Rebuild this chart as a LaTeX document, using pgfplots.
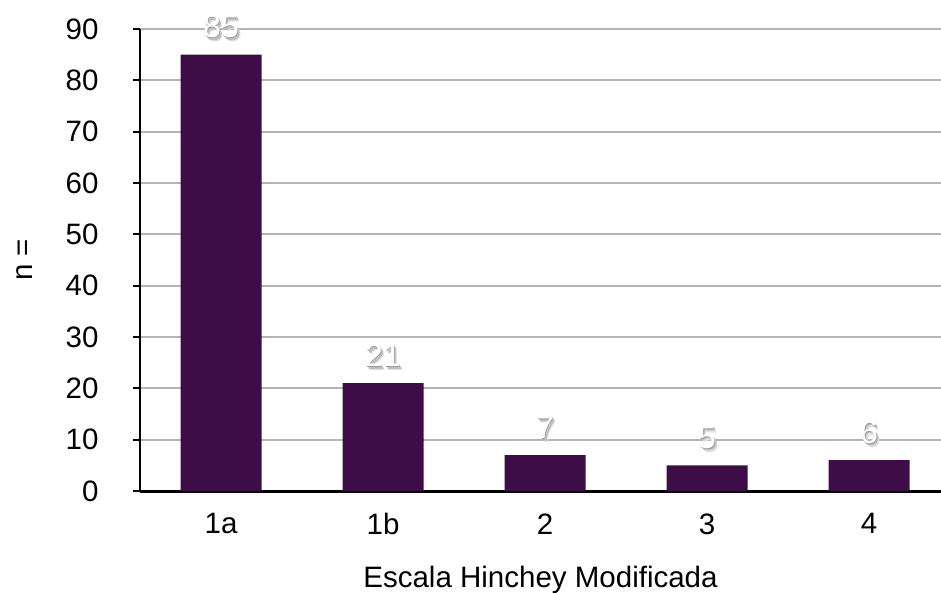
\documentclass[border=0pt]{standalone}
\usepackage{pgfplots}
\pgfplotsset{compat=1.18}
\usepackage{fontspec}
\setmainfont{Liberation Sans}
\definecolor{barcol}{RGB}{62,12,71}
\definecolor{gridcol}{RGB}{180,180,180}
\newcommand\shadowtext[1]{%
 \makebox[0pt][l]{\raisebox{-4pt}{\hspace{3pt}\textcolor{black!12}{#1}}}%
 \makebox[0pt][l]{\raisebox{-2.5pt}{\hspace{2pt}\textcolor{black!25}{#1}}}%
 \makebox[0pt][l]{\raisebox{-1pt}{\hspace{0.5pt}\textcolor{black!40}{#1}}}%
 \textcolor{white}{#1}}
\begin{document}
\begin{tikzpicture}
\path[use as bounding box] (-140pt,-101pt) rectangle (801pt,491pt);
\begin{axis}[
 scale only axis, width=801pt, height=462pt,
 ybar, bar width=81pt,
 xmin=-0.5, xmax=4.444, ymin=0, ymax=90,
 xtick={0,...,4}, xticklabels={1a,1b,2,3,4},
 ytick={0,10,...,90},
 axis x line*=bottom, axis y line*=left,
 ymajorgrids, grid style={gridcol, line width=2pt},
 x axis line style={line width=3pt, -},
 y axis line style={line width=2.5pt, -},
 major tick length=7pt, tick align=outside,
 xtick style={draw=none}, ytick style={line width=2pt, black},
 font=\fontsize{29.5}{34}\selectfont,
 ticklabel style={font=\fontsize{29.5}{34}\selectfont},
 /pgf/number format/assume math mode=true,
 yticklabel style={xshift=-31pt},
 xticklabel style={yshift=-12pt},
 xlabel={Escala Hinchey Modificada}, ylabel={n =},
 xlabel style={yshift=-24pt},
 ylabel style={yshift=26pt},
 nodes near coords={\shadowtext{\pgfmathprintnumber{\pgfplotspointmeta}}},
 every node near coord/.append style={font=\fontsize{32}{36}\selectfont, yshift=9pt},
]
\addplot[fill=barcol, draw=none] coordinates {(0,85) (1,21) (2,7) (3,5) (4,6)};
\end{axis}
\end{tikzpicture}
\end{document}
